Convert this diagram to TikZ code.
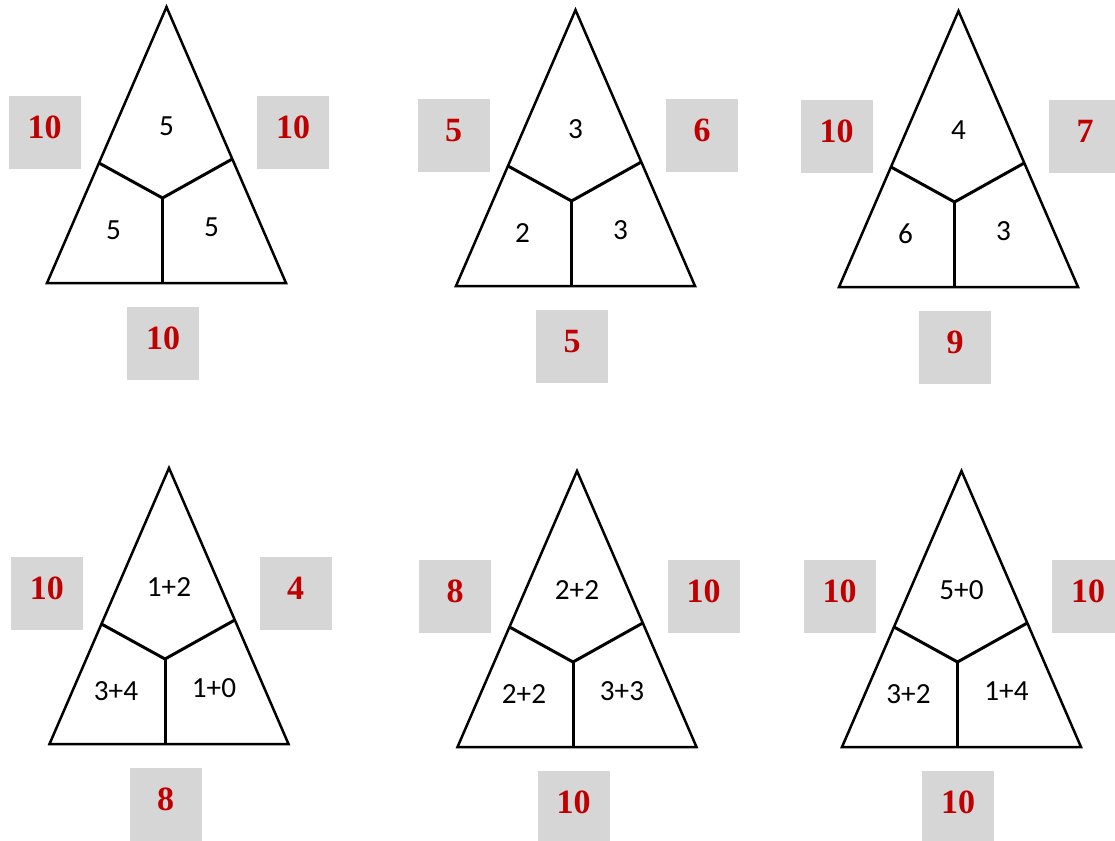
\documentclass[tikz,border=0pt]{standalone}
\usepackage{fontspec}
\setsansfont{Carlito}
\newfontfamily\redfont{Liberation Serif}
\usetikzlibrary{positioning,calc}
\definecolor{boxgray}{RGB}{214,214,214}
\definecolor{numred}{RGB}{192,0,0}

\begin{document}
\begin{tikzpicture}[
    x=0.5pt, y=-0.5pt,
    every node/.style={inner sep=0pt},
    sumbox/.style={fill=boxgray, minimum width=36pt, minimum height=36.5pt, text depth=5pt,
      font=\redfont\bfseries\fontsize{17}{19}\selectfont, text=numred},
    part/.style={font=\sffamily\fontsize{14.6}{16}\selectfont},
    edge/.style={line width=1.25pt, line join=miter},
    cut/.style={line width=1.5pt},
  ]
  \useasboundingbox (0,0) rectangle (1115,841);
  % one triangle: base centre, three parts (top/left/right), three sums (left/right/bottom)
  \foreach \i/\bx/\by/\pt/\pl/\pr/\nl/\nr/\nb in {
      1/166.5/283/5/5/5/10/10/10,
      2/575.5/286/3/2/3/5/6/5,
      3/958.5/287/4/6/3/10/7/9,
      4/169/744/1+2/3+4/1+0/10/4/8,
      5/577/747/2+2/2+2/3+3/8/10/10,
      6/961.5/747/5+0/3+2/1+4/10/10/10}{
    \begin{scope}[shift={(\bx,\by)}]
      \draw[edge] (-119.5,0) coordinate (bl\i) -- (0,-276) coordinate (ap\i)
        -- (119.5,0) coordinate (br\i) -- cycle;
      \coordinate (c\i) at (-4,-85);
      \coordinate (lp\i) at (-67.5,-120);
      \coordinate (rp\i) at (65.8,-124);
      \coordinate (bm\i) at (-4,0);
      \draw[cut] (lp\i) -- (c\i) -- (rp\i);
      \draw[cut] (c\i) -- (bm\i);
      \node[part] (top\i) at (0,-157) {\pt};
      \node[part] (left\i) at (-53,-53) {\pl};
      \node[part] (right\i) at (45,-56) {\pr};
      \node[sumbox] (sl\i) at (-122,-151) {\nl};
      \node[sumbox] (sr\i) at (126.5,-151) {\nr};
      \node[sumbox] (sb\i) at (-3.5,60) {\nb};
    \end{scope}
  }
\end{tikzpicture}
\end{document}
